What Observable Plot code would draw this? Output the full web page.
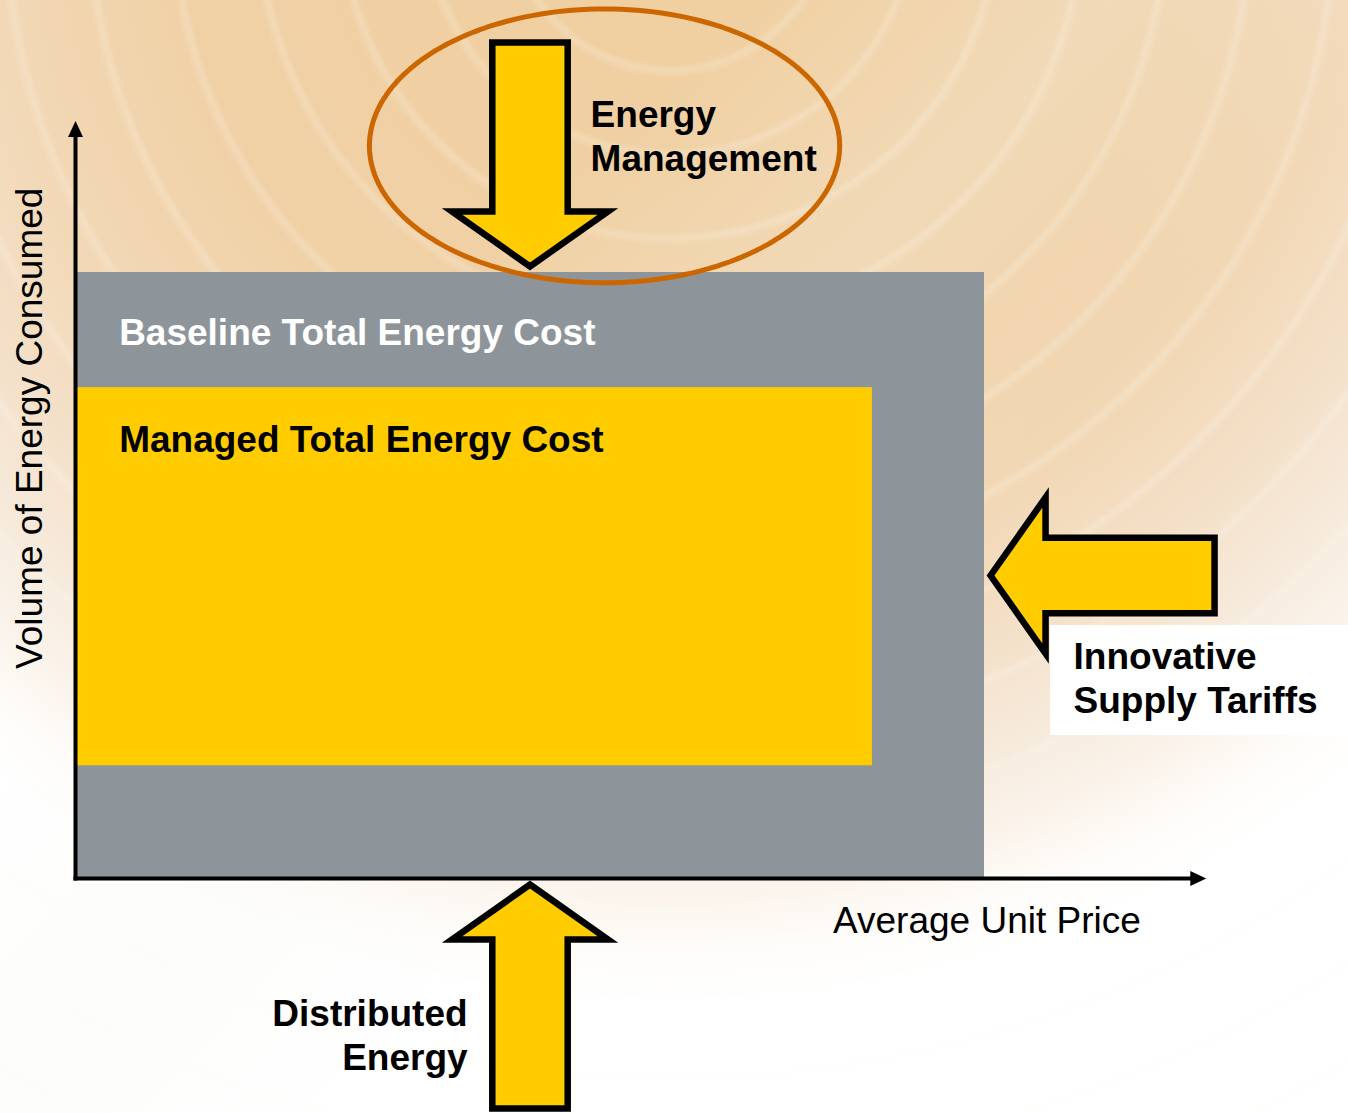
<!DOCTYPE html>
<html>
<head>
<meta charset="utf-8">
<script src="https://cdn.jsdelivr.net/npm/d3@7"></script>
<script src="https://cdn.jsdelivr.net/npm/@observablehq/plot@0.6"></script>
<style>
  html, body { margin: 0; padding: 0; background: #ffffff; }
  #chart {
    width: 1348px; height: 1113px; position: relative; overflow: hidden;
    background:
      repeating-radial-gradient(circle at 670px -90px, rgba(255,255,255,0) 0px, rgba(255,255,255,0) 70px, rgba(250,250,245,0.22) 76px, rgba(255,255,255,0) 84px),
      linear-gradient(135deg, rgba(255,255,255,0) 30%, rgba(245,245,240,0.25) 45%, rgba(255,255,255,0) 60%),
      radial-gradient(circle 1092px at 670px -90px, #f0cf9f 0%, #f0d1a6 45%, #f2d8b6 62%, #f4e1ca 74%, #f7ebdd 83%, #fbf4ec 90%, #fefcf9 95%, #ffffff 100%);
  }
  #chart svg { display: block; background: transparent; }
</style>
</head>
<body>
<div id="chart"></div>
<script>
// ---------------- DATA ----------------
const costBlocks     = ["Baseline Total Energy Cost", "Managed Total Energy Cost"];
const blockPriceMax  = [15, 13.15];   // average unit price extent
const blockVolumeMin = [0, 1.86];     // volume extent (low)
const blockVolumeMax = [10, 8.1];     // volume extent (high)

const levers     = ["Energy Management", "Innovative Supply Tariffs", "Distributed Energy"];
const leverSide  = ["top", "right", "bottom"];
const leverLines = [["Energy", "Management"], ["Innovative", "Supply Tariffs"], ["Distributed", "Energy"]];
const highlightedLever = "Energy Management";

const xAxisTitle = "Average Unit Price";
const yAxisTitle = "Volume of Energy Consumed";

// ---------------- LAYOUT / STYLE ----------------
const W = 1348, H = 1113;
const U = 60.6;                       // pixels per unit
const ORIGIN = {x: 75, y: 878};       // pixel location of the axes origin
const xDomain = [-ORIGIN.x / U, (W - ORIGIN.x) / U];
const yDomain = [-(H - ORIGIN.y) / U, ORIGIN.y / U];

const FONT = "'Liberation Sans', Arial, Helvetica, sans-serif";
const GRAY = "#8e959a", YELLOW = "#ffcc00", ORANGE = "#cc6600";
const blockFill = [GRAY, YELLOW];
const blockText = ["#ffffff", "#000000"];
const blockLabelDrop = [1.2, 1.06];
const labelInset = 0.72;

const arrowLen = 224 / U, headLen = 55 / U, headHalf = 78 / U, shaftHalf = 37.7 / U, tipGap = 0.1;
const lineGap = 44 / U;
const axisTipX = 18.66, axisTipY = 12.5, axisHeadLen = 16 / U, axisHeadHalf = 7.5 / U;

const bx = blockPriceMax[0], by = blockVolumeMax[0];
const sideGeom = {
  top:    {tip: [bx / 2, by + tipGap], dir: [0, -1], anchor: "start", dx: 1.0,   dy: 2.294},
  right:  {tip: [bx + tipGap, by / 2], dir: [-1, 0], anchor: "start", dx: 1.37,  dy: -1.55},
  bottom: {tip: [bx / 2, -tipGap],     dir: [0, 1],  anchor: "end",   dx: -1.03, dy: -2.327}
};

// ---------------- DERIVED GEOMETRY ----------------
const blocks = costBlocks.map((name, i) => ({
  name, x1: 0, x2: blockPriceMax[i], y1: blockVolumeMin[i], y2: blockVolumeMax[i],
  fill: blockFill[i], color: blockText[i],
  lx: labelInset, ly: blockVolumeMax[i] - blockLabelDrop[i]
}));

function arrowPts(name, tip, dir) {
  const perp = [-dir[1], dir[0]];
  const local = [
    [-arrowLen, 0], [-arrowLen, shaftHalf], [-headLen, shaftHalf], [-headLen, headHalf], [0, 0],
    [-headLen, -headHalf], [-headLen, -shaftHalf], [-arrowLen, -shaftHalf], [-arrowLen, 0]
  ];
  return local.map(([a, p], k) => ({
    name, k, x: tip[0] + a * dir[0] + p * perp[0], y: tip[1] + a * dir[1] + p * perp[1]
  }));
}
const arrowData = levers.flatMap((name, i) => {
  const g = sideGeom[leverSide[i]];
  return arrowPts(name, g.tip, g.dir);
});

const labelData = levers.flatMap((name, i) => {
  const g = sideGeom[leverSide[i]];
  return leverLines[i].map((t, j) => ({
    text: t, anchor: g.anchor, x: g.tip[0] + g.dx, y: g.tip[1] + g.dy - j * lineGap
  }));
});

// white label panel behind the right-hand lever label
const rg = sideGeom.right;
const panel = [{x1: rg.tip[0] + 0.99, x2: xDomain[1], y1: rg.tip[1] - 2.64, y2: rg.tip[1] - 0.825}];

// highlight ellipse round the energy-management lever
const hi = sideGeom[leverSide[levers.indexOf(highlightedLever)]];
const ec = [hi.tip[0] + 1.23, hi.tip[1] + 1.99], erx = 3.88, ery = 2.26;
const ellipse = d3.range(0, 361, 2).map(a => ({
  x: ec[0] + erx * Math.cos(a * Math.PI / 180),
  y: ec[1] + ery * Math.sin(a * Math.PI / 180)
}));

// axes
const axisLines = [
  {x1: 0, y1: 0, x2: axisTipX - axisHeadLen + 0.02, y2: 0},
  {x1: 0, y1: 0, x2: 0, y2: axisTipY - axisHeadLen + 0.02}
];
const axisHeads = [
  {g: "x", x: axisTipX, y: 0}, {g: "x", x: axisTipX - axisHeadLen, y: axisHeadHalf},
  {g: "x", x: axisTipX - axisHeadLen, y: -axisHeadHalf}, {g: "x", x: axisTipX, y: 0},
  {g: "y", x: 0, y: axisTipY}, {g: "y", x: axisHeadHalf, y: axisTipY - axisHeadLen},
  {g: "y", x: -axisHeadHalf, y: axisTipY - axisHeadLen}, {g: "y", x: 0, y: axisTipY}
];

const chart = Plot.plot({
  width: W, height: H,
  marginTop: 0, marginRight: 0, marginBottom: 0, marginLeft: 0,
  x: {domain: xDomain, range: [0, W], axis: null},
  y: {domain: yDomain, range: [H, 0], axis: null},
  style: {background: "transparent", fontFamily: FONT},
  marks: [
    Plot.rect(panel, {x1: "x1", x2: "x2", y1: "y1", y2: "y2", fill: "#ffffff"}),
    Plot.rect(blocks, {x1: "x1", x2: "x2", y1: "y1", y2: "y2", fill: d => d.fill}),
    Plot.link(axisLines, {x1: "x1", y1: "y1", x2: "x2", y2: "y2", stroke: "#000", strokeWidth: 4, strokeLinecap: "square"}),
    Plot.line(axisHeads, {x: "x", y: "y", z: "g", fill: "#000", stroke: "none"}),
    Plot.line(ellipse, {x: "x", y: "y", stroke: ORANGE, strokeWidth: 5, curve: "linear"}),
    Plot.line(arrowData, {x: "x", y: "y", z: "name", fill: YELLOW, stroke: "#000", strokeWidth: 6.5,
      strokeLinejoin: "miter", strokeMiterlimit: 10, curve: "linear"}),
    Plot.text(blocks, {x: "lx", y: "ly", text: "name", fill: d => d.color, textAnchor: "start",
      lineAnchor: "bottom", fontSize: 37, fontWeight: "bold", fontFamily: FONT}),
    Plot.text(labelData.filter(d => d.anchor === "start"), {x: "x", y: "y", text: "text", textAnchor: "start",
      lineAnchor: "bottom", fontSize: 37, fontWeight: "bold", fill: "#000", fontFamily: FONT}),
    Plot.text(labelData.filter(d => d.anchor === "end"), {x: "x", y: "y", text: "text", textAnchor: "end",
      lineAnchor: "bottom", fontSize: 37, fontWeight: "bold", fill: "#000", fontFamily: FONT}),
    Plot.text([{t: xAxisTitle, x: 12.5, y: -0.907}], {x: "x", y: "y", text: "t", textAnchor: "start",
      lineAnchor: "bottom", fontSize: 37, fill: "#000", fontFamily: FONT}),
    Plot.text([{t: yAxisTitle, x: -0.56, y: 7.43}], {x: "x", y: "y", text: "t", textAnchor: "middle",
      lineAnchor: "bottom", rotate: -90, fontSize: 37, fill: "#000", fontFamily: FONT})
  ]
});
document.getElementById("chart").appendChild(chart);
</script>
</body>
</html>
